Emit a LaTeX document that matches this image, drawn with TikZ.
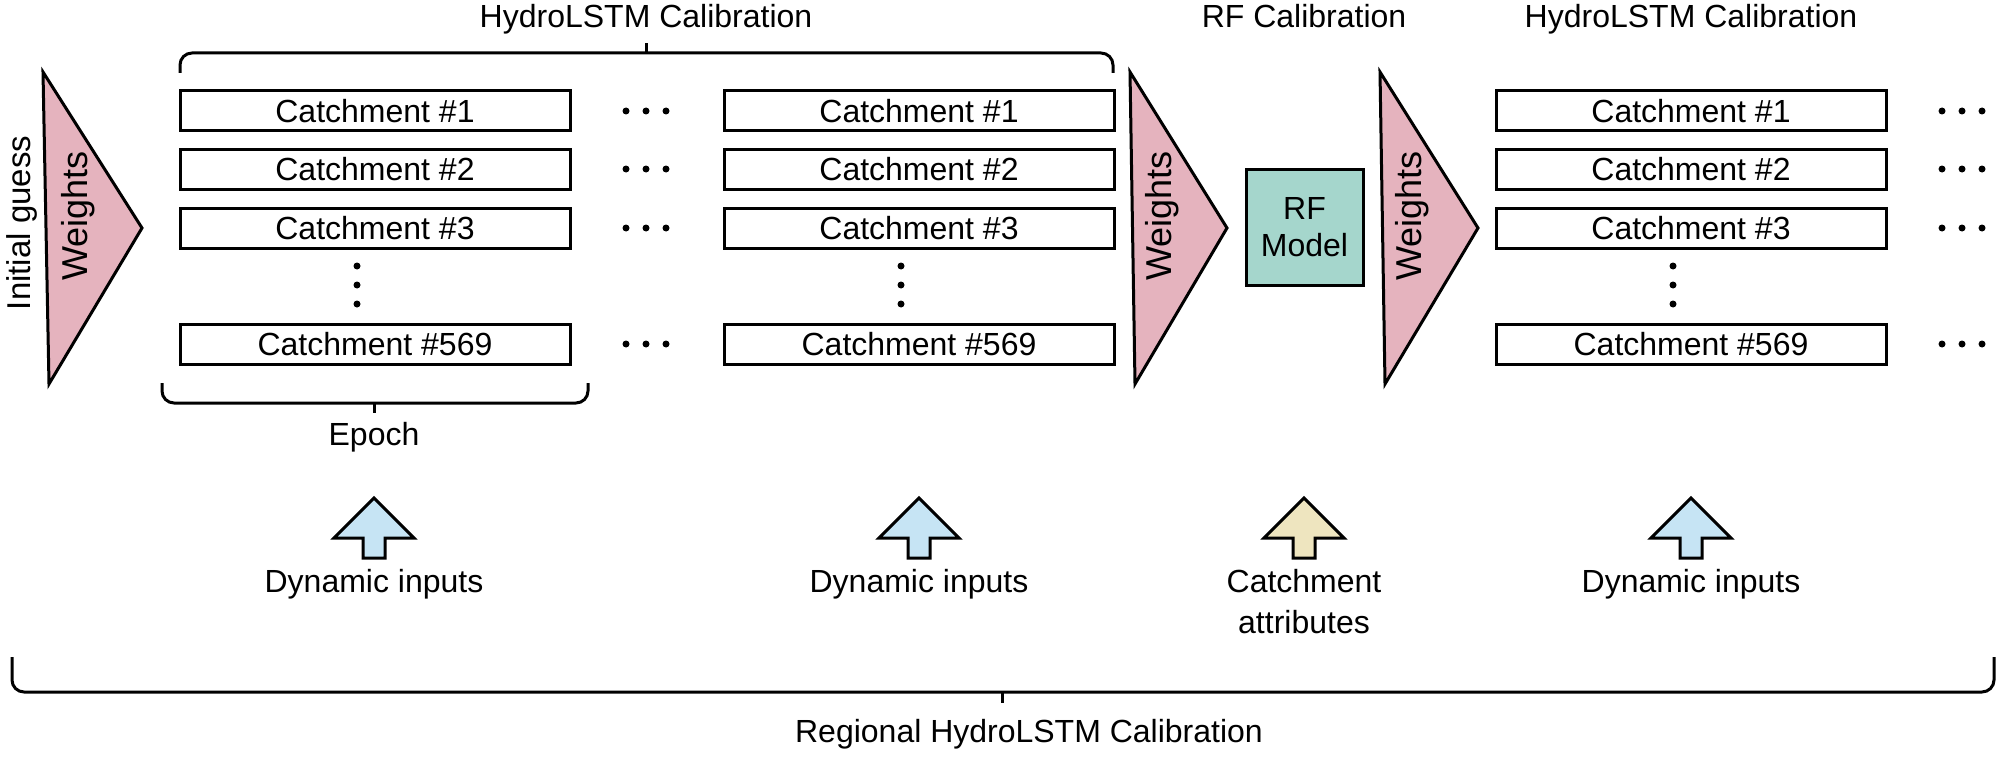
\documentclass[tikz,border=0pt]{standalone}
\usepackage{fontspec}
\setmainfont{Liberation Sans}
\definecolor{pinkW}{HTML}{E5B3BE}
\definecolor{tealRF}{HTML}{A5D6CC}
\definecolor{blueIn}{HTML}{C6E4F4}
\definecolor{yellowIn}{HTML}{EEE5BF}
\begin{document}
\begin{tikzpicture}[x=1pt,y=-1pt,
  every node/.style={font=\fontsize{32}{37}\selectfont},
  box/.style={draw, line width=3pt, minimum width=390pt, minimum height=40pt, inner sep=0pt},
  rfbox/.style={draw, line width=3pt, fill=tealRF, minimum width=117pt, minimum height=116pt, inner sep=0pt, align=center},
  tri/.style={draw, line width=3pt, fill=pinkW, line join=miter},
  wlbl/.style={rotate=90, font=\fontsize{36}{40}\selectfont},
  brace/.style={line width=3pt, rounded corners=12pt},
  dot/.style={fill, circle, inner sep=0pt, minimum size=7pt},
  lbl/.style={anchor=base},
  inarrow/.pic={\path[pic actions] (0,0) -- (40,40) -- (11,40) -- (11,60) -- (-11,60) -- (-11,40) -- (-40,40) -- cycle;}
]
\useasboundingbox (0,0) rectangle (2007,757);

% titles
\node[lbl] (t1) at (646,28) {HydroLSTM Calibration};
\node[lbl] (t2) at (1304,28) {RF Calibration};
\node[lbl] (t3) at (1691,28) {HydroLSTM Calibration};

% top brace
\draw[brace] (180,73) -- (180,53) -- (1113,53) -- (1113,73);
\draw[line width=3pt] (646,53) -- (646,43);

% triangles
\draw[tri] (43,72) -- (142,228) -- (49,384) -- cycle;
\draw[tri] (1130,72) -- (1227,228) -- (1135,384) -- cycle;
\draw[tri] (1380,72) -- (1478,228) -- (1385,384) -- cycle;
\node[wlbl] (w1) at (78,216) {Weights};
\node[wlbl] (w2) at (1162,216) {Weights};
\node[wlbl] (w3) at (1412,216) {Weights};
\node[rotate=90, font=\fontsize{33}{38}\selectfont] (ig) at (22,223) {Initial guess};

% columns of catchments
\foreach \c/\cx in {1/375,2/919,3/1691}{
  \node[box] (c\c a) at (\cx,111) {Catchment \#1};
  \node[box] (c\c b) at (\cx,169) {Catchment \#2};
  \node[box] (c\c c) at (\cx,228) {Catchment \#3};
  \node[box] (c\c d) at (\cx,344) {Catchment \#569};
  \node[dot] (v\c a) at (\cx-18,266) {};
  \node[dot] (v\c b) at (\cx-18,285) {};
  \node[dot] (v\c c) at (\cx-18,304) {};
}
\foreach \c/\cx in {1/375,3/1691}{
  \foreach \r/\ry in {a/111,b/169,c/228,d/344}{
    \node[dot] (h\c\r1) at (\cx+251,\ry) {};
    \node[dot] (h\c\r2) at (\cx+271,\ry) {};
    \node[dot] (h\c\r3) at (\cx+291,\ry) {};
  }
}

% RF model
\node[rfbox] (rf) at (1304.5,227) {RF\\Model};

% epoch brace
\draw[brace] (162,383) -- (162,403) -- (588,403) -- (588,383);
\draw[line width=3pt] (374,403) -- (374,413);
\node[lbl] (epoch) at (374,445) {Epoch};

% input arrows
\pic[draw, fill=blueIn, line width=3pt, line join=miter] at (374,498) {inarrow};
\pic[draw, fill=blueIn, line width=3pt, line join=miter] at (919,498) {inarrow};
\pic[draw, fill=yellowIn, line width=3pt, line join=miter] at (1304,498) {inarrow};
\pic[draw, fill=blueIn, line width=3pt, line join=miter] at (1691,498) {inarrow};
\node[lbl] (d1) at (374,592) {Dynamic inputs};
\node[lbl] (d2) at (919,592) {Dynamic inputs};
\node[lbl] (ca1) at (1304,592) {Catchment};
\node[lbl] (ca2) at (1304,633) {attributes};
\node[lbl] (d3) at (1691,592) {Dynamic inputs};

% regional brace
\draw[brace] (12,657) -- (12,692) -- (1994,692) -- (1994,657);
\draw[line width=3pt] (1002,692) -- (1002,703);
\node[lbl] (reg) at (1029,742) {Regional HydroLSTM Calibration};
\end{tikzpicture}
\end{document}
